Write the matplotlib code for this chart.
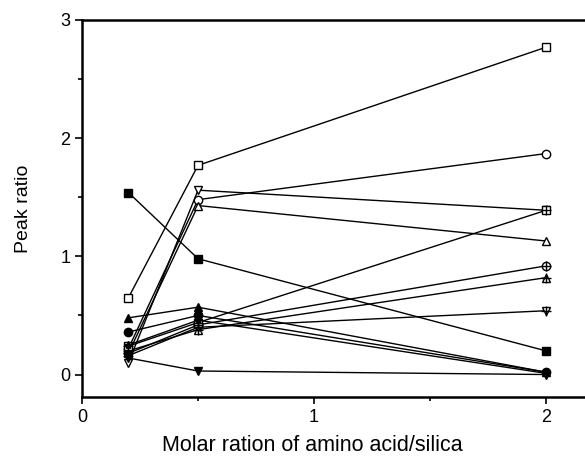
import matplotlib
matplotlib.use("Agg")
import matplotlib.pyplot as plt
from matplotlib.ticker import MultipleLocator

plt.rcParams['font.family'] = ['Liberation Sans', 'DejaVu Sans']

x = [0.2, 0.5, 2.0]

open_square = [0.65, 1.77, 2.77]
filled_square = [1.54, 0.98, 0.20]
open_circle = [0.22, 1.48, 1.87]
open_tri_down = [0.10, 1.56, 1.39]
open_tri_up = [0.18, 1.43, 1.13]
circle_plus = [0.18, 0.42, 0.92]
tri_up_plus = [0.20, 0.38, 0.82]
tri_down_plus = [0.16, 0.40, 0.54]
square_plus = [0.24, 0.44, 1.39]
filled_circle = [0.36, 0.50, 0.02]
filled_tri_up = [0.48, 0.57, 0.02]
filled_tri_down = [0.14, 0.03, 0.00]
star_series = [0.25, 0.46, 0.01]

series = [
    (open_square, 's', 'white', None),
    (filled_square, 's', 'black', None),
    (open_circle, 'o', 'white', None),
    (open_tri_down, 'v', 'white', None),
    (open_tri_up, '^', 'white', None),
    (circle_plus, 'o', 'white', '+'),
    (tri_up_plus, '^', 'white', '+'),
    (tri_down_plus, 'v', 'white', '+'),
    (square_plus, 's', 'white', '+'),
    (filled_circle, 'o', 'black', None),
    (filled_tri_up, '^', 'black', None),
    (filled_tri_down, 'v', 'black', None),
    (star_series, '*', 'black', None),
]

fig = plt.figure(figsize=(5.85, 4.66), dpi=100)
ax = fig.add_axes([82/585, 69/466, (585-82)/585 + 0.003, (397-20)/466])

for y, m, fc, overlay in series:
    ax.plot(x, y, color='black', lw=1.0, marker=m, markersize=6,
            markerfacecolor=fc, markeredgecolor='black', markeredgewidth=1.0,
            zorder=3)
    if overlay:
        ax.plot(x, y, ls='none', marker=overlay, markersize=6.5,
                markeredgecolor='black', markeredgewidth=1.0, zorder=4)

ax.set_xlim(0, 2.175)
ax.set_ylim(-0.19, 3.0)
ax.xaxis.set_major_locator(MultipleLocator(1))
ax.xaxis.set_minor_locator(MultipleLocator(0.5))
ax.yaxis.set_major_locator(MultipleLocator(1))
ax.yaxis.set_minor_locator(MultipleLocator(0.5))
ax.tick_params(which='major', length=5, width=1.2, labelsize=13, direction='out')
ax.tick_params(which='minor', length=3, width=1.2, direction='out')
for s in ax.spines.values():
    s.set_linewidth(1.8)

ax.set_xlabel('Molar ration of amino acid/silica', fontsize=15.5, labelpad=8)
ax.xaxis.set_label_coords(0.457, -0.1)
ax.set_ylabel('Peak ratio', fontsize=14, labelpad=20)

fig.savefig('out.png', dpi=100)
